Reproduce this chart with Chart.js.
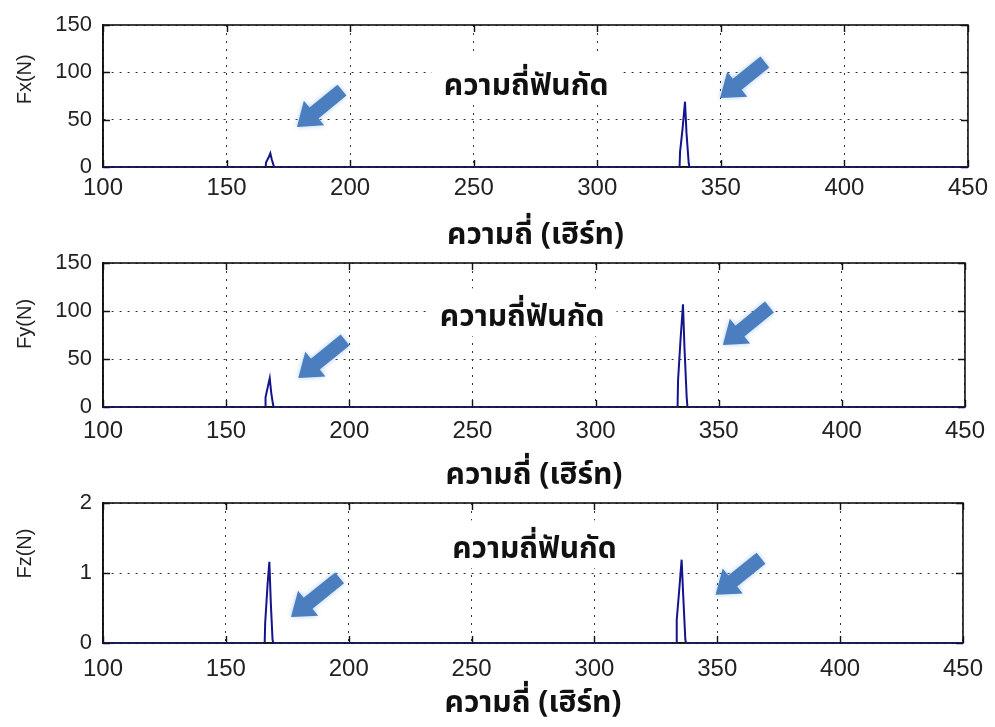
<!DOCTYPE html>
<html><head><meta charset="utf-8">
<script src="https://cdn.jsdelivr.net/npm/chart.js@4.4.1/dist/chart.umd.min.js"></script>
<style>
html,body{margin:0;padding:0;background:#fff;}
#wrap{position:relative;width:995px;height:727px;overflow:hidden;background:#fff;}
canvas{position:absolute;left:0;}
</style></head><body>
<div id="wrap">
<canvas id="c1" width="995" height="256" style="top:0px"></canvas>
<canvas id="c2" width="995" height="258" style="top:238px"></canvas>
<canvas id="c3" width="995" height="249" style="top:478px"></canvas>
</div>
<script>
// ---- data ----
const freqHz = [100, 165.8, 166, 167, 167.7, 168.3, 169, 169.3, 333.3, 333.5, 334.5, 335.5, 336.1, 337, 337.3, 450];
const fxN = [0, 0, 5, 10, 14.5, 8, 2, 0, 0, 16, 40, 69, 36, 4, 0, 0];
const fyN = [0, 0, 10, 22, 30, 15, 3, 0, 0, 28, 70, 107, 62, 10, 0, 0];
const fzN = [0, 0, 0.28, 0.85, 1.16, 0.57, 0.05, 0, 0, 0.33, 0.75, 1.19, 0.71, 0.05, 0, 0];
const xTicks = [100, 150, 200, 250, 300, 350, 400, 450];
const fxyTicks = [0, 50, 100, 150];
const fzTicks = [0, 1, 2];
const xAxisTitle = 'ความถี่ (เฮิร์ท)';
const noteText = 'ความถี่ฟันกัด';
const yTitles = ['Fx(N)', 'Fy(N)', 'Fz(N)'];

const THAI = "'Noto Sans Thai', 'Noto Sans Thai UI', 'Loma', 'Garuda', 'Noto Sans', 'DejaVu Sans', sans-serif";
const NUM = "'Liberation Sans', Arial, sans-serif";
const ARROW = '#4a7ebe';

const framePlugin = {
  id: 'frame',
  beforeDatasetsDraw(chart, args, o) {
    const {ctx, chartArea: a, scales: {x, y}} = chart;
    ctx.save();
    // note text box
    ctx.font = 'bold ' + o.noteSize + 'px ' + THAI;
    const cx = x.getPixelForValue(o.note[0]);
    const by = y.getPixelForValue(o.note[1]);
    const w = ctx.measureText(noteText).width;
    ctx.fillStyle = '#fff';
    ctx.fillRect(cx - w / 2 - 12, by - 38, w + 24, 48);
    ctx.fillStyle = '#111';
    ctx.textAlign = 'center';
    ctx.textBaseline = 'alphabetic';
    ctx.fillText(noteText, cx, by);
    // frame
    ctx.strokeStyle = '#111';
    ctx.lineWidth = 1.6;
    ctx.strokeRect(a.left, a.top, a.width, a.height);
    // inner ticks
    ctx.lineWidth = 1.4;
    ctx.beginPath();
    x.ticks.forEach(t => {
      const p = Math.round(x.getPixelForValue(t.value)) + 0.5;
      ctx.moveTo(p, a.top); ctx.lineTo(p, a.top + 7);
      ctx.moveTo(p, a.bottom); ctx.lineTo(p, a.bottom - 7);
    });
    y.ticks.forEach(t => {
      const p = Math.round(y.getPixelForValue(t.value)) + 0.5;
      ctx.moveTo(a.left, p); ctx.lineTo(a.left + 7, p);
      ctx.moveTo(a.right, p); ctx.lineTo(a.right - 7, p);
    });
    ctx.stroke();
    ctx.restore();
  },
  afterDatasetsDraw(chart, args, o) {
    const {ctx, scales: {x, y}} = chart;
    ctx.save();
    o.arrows.forEach(ar => {
      const tx = x.getPixelForValue(ar[0]), ty = y.getPixelForValue(ar[1]);
      const px = x.getPixelForValue(ar[2]), py = y.getPixelForValue(ar[3]);
      const L = Math.hypot(px - tx, py - ty);
      const dx = (px - tx) / L, dy = (py - ty) / L;
      const nx = -dy, ny = dx;
      const w = 7, hw = 16, hl = 22;
      const hx = px - dx * hl, hy = py - dy * hl;
      ctx.beginPath();
      ctx.moveTo(tx + nx * w, ty + ny * w);
      ctx.lineTo(hx + nx * w, hy + ny * w);
      ctx.lineTo(hx + nx * hw, hy + ny * hw);
      ctx.lineTo(px, py);
      ctx.lineTo(hx - nx * hw, hy - ny * hw);
      ctx.lineTo(hx - nx * w, hy - ny * w);
      ctx.lineTo(tx - nx * w, ty - ny * w);
      ctx.closePath();
      ctx.shadowColor = 'rgba(110,160,225,0.55)';
      ctx.shadowBlur = 5;
      ctx.fillStyle = ARROW;
      ctx.fill();
    });
    ctx.restore();
  }
};

function makeChart(id, values, yTicks, yMax, yTitle, cfg) {
  const pts = freqHz.map((f, i) => ({x: f, y: values[i]}));
  return new Chart(document.getElementById(id), {
    type: 'line',
    data: {datasets: [{data: pts, borderColor: '#14148c', borderWidth: 2, pointRadius: 0, tension: 0, fill: false}]},
    options: {
      responsive: false,
      animation: false,
      events: [],
      layout: {padding: {top: 25, right: 23, bottom: 0, left: 0}},
      plugins: {legend: {display: false}, tooltip: {enabled: false}, frame: cfg.frame},
      scales: {
        x: {
          type: 'linear', min: 100, max: 450,
          afterBuildTicks: s => { s.ticks = xTicks.map(v => ({value: v})); },
          afterFit: s => { s.height = cfg.xHeight; },
          ticks: {font: {family: NUM, size: 24}, color: '#222', padding: cfg.tickPad, maxRotation: 0, autoSkip: false},
          grid: {color: '#333', lineWidth: 1, drawTicks: false},
          border: {display: true, color: '#111', width: 1.6, dash: [2, 6]},
          title: {display: true, text: xAxisTitle, color: '#111', font: {family: THAI, size: 30, weight: 'bold', lineHeight: 1.2}, padding: {top: 0, bottom: cfg.titlePad}}
        },
        y: {
          min: 0, max: yMax,
          afterBuildTicks: s => { s.ticks = yTicks.map(v => ({value: v})); },
          afterFit: s => { s.width = 103; },
          ticks: {font: {family: NUM, size: 22}, color: '#222', padding: 11},
          grid: {color: '#333', lineWidth: 1, drawTicks: false},
          border: {display: true, color: '#111', width: 1.6, dash: [2, 6]},
          title: {display: true, text: yTitle, color: '#222', font: {family: NUM, size: 20, lineHeight: 1.2}, padding: {top: 13, bottom: 0}}
        }
      }
    },
    plugins: [framePlugin]
  });
}

makeChart('c1', fxN, fxyTicks, 150, '      ' + yTitles[0], {
  xHeight: 89, tickPad: 7, titlePad: 0,
  frame: {noteSize: 30, note: [271.2, 76], arrows: [[196.7, 81.3, 178.5, 42.3], [367.8, 110.9, 349.7, 72.9]]}
});
makeChart('c2', fyN, fxyTicks, 150, '    ' + yTitles[1], {
  xHeight: 89, tickPad: 10, titlePad: 0,
  frame: {noteSize: 30, note: [270.2, 84], arrows: [[198.3, 69.8, 179.3, 30.2], [370.6, 104.2, 351.7, 64.6]]}
});
makeChart('c3', fzN, fzTicks, 2, '       ' + yTitles[2], {
  xHeight: 84, tickPad: 12, titlePad: 3,
  frame: {noteSize: 30, note: [275.6, 1.21], arrows: [[196.3, 0.93, 176.5, 0.37], [367.8, 1.21, 349.3, 0.69]]}
});
</script>
</body></html>
